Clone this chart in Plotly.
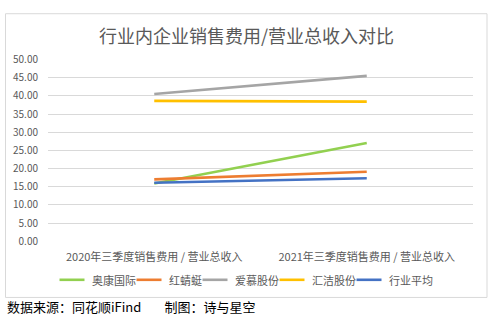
import plotly.graph_objects as go

W, H = 497, 324

categories = ["2020年三季度销售费用 / 营业总收入", "2021年三季度销售费用 / 营业总收入"]
series_names = ["奥康国际", "红蜻蜓", "爱慕股份", "汇洁股份", "行业平均"]
aokang = [15.9, 27.0]
hongqingting = [17.0, 19.1]
aimu = [40.5, 45.5]
huijie = [38.6, 38.4]
industry_avg = [16.1, 17.3]
series_values = [aokang, hongqingting, aimu, huijie, industry_avg]
colors = ["#92D050", "#ED7D31", "#A5A5A5", "#FFC000", "#4472C4"]
y_ticks = [0, 5, 10, 15, 20, 25, 30, 35, 40, 45, 50]

FONT = "Noto Sans CJK SC"
TXT = "#595959"

fig = go.Figure()
for name, vals, c in zip(series_names, series_values, colors):
    fig.add_trace(go.Scatter(x=categories, y=vals, name=name, mode="lines",
                             line=dict(color=c, width=2.6), showlegend=False))

def px(x):
    return x / W

def py(y):
    return 1 - y / H

shapes = [dict(type="rect", xref="paper", yref="paper",
               x0=px(5.5), x1=px(487), y0=py(303.5), y1=py(6),
               line=dict(color="#D9D9D9", width=1), fillcolor="rgba(0,0,0,0)", layer="below")]
annotations = [
    dict(text="行业内企业销售费用/营业总收入对比", xref="paper", yref="paper",
         x=px(246), y=py(28), xanchor="center", yanchor="middle", showarrow=False,
         font=dict(size=18, color=TXT, family=FONT)),
    dict(text="数据来源：同花顺iFind&nbsp;&nbsp;&nbsp;&nbsp;&nbsp;&nbsp;&nbsp;&nbsp;制图：诗与星空",
         xref="paper", yref="paper",
         x=px(5), y=py(313), xanchor="left", yanchor="middle", showarrow=False,
         font=dict(size=13, color="#000000", family=FONT)),
]

# manual legend (layout only)
LEG_Y = 285
SAMPLE = 25
GAP1 = 5
GAP2 = 3
CHAR_W = 11
total = sum(SAMPLE + GAP1 + CHAR_W * len(n) for n in series_names) + GAP2 * (len(series_names) - 1)
x = 245 - total / 2
for name, c in zip(series_names, colors):
    shapes.append(dict(type="line", xref="paper", yref="paper",
                       x0=px(x), x1=px(x + SAMPLE), y0=py(LEG_Y), y1=py(LEG_Y),
                       line=dict(color=c, width=2.6)))
    annotations.append(dict(text=name, xref="paper", yref="paper",
                            x=px(x + SAMPLE + GAP1), y=py(LEG_Y), xanchor="left", yanchor="middle",
                            showarrow=False, font=dict(size=11, color=TXT, family=FONT)))
    x += SAMPLE + GAP1 + CHAR_W * len(name) + GAP2

fig.update_layout(
    width=W, height=H,
    margin=dict(l=0, r=0, t=0, b=0),
    paper_bgcolor="white", plot_bgcolor="white",
    font=dict(family=FONT, color=TXT, size=11),
    showlegend=False,
    xaxis=dict(domain=[px(48), px(473)], range=[-0.5, 1.5], showgrid=False,
               showline=False, zeroline=False, ticks="outside", ticklen=6,
               tickcolor="rgba(0,0,0,0)",
               tickfont=dict(size=11, color=TXT, family=FONT)),
    yaxis=dict(domain=[py(244.5), py(54)], range=[0, 50], tickvals=y_ticks,
               tickformat=".2f", showgrid=True, gridcolor="#D9D9D9", gridwidth=1,
               zeroline=False, showline=False, ticks="",
               tickfont=dict(size=10, color=TXT, family=FONT), ticklabelstandoff=9),
    shapes=shapes,
    annotations=annotations,
)

fig.write_html("out.html",
               post_script="document.body.style.margin='0';document.body.style.overflow='hidden';")
